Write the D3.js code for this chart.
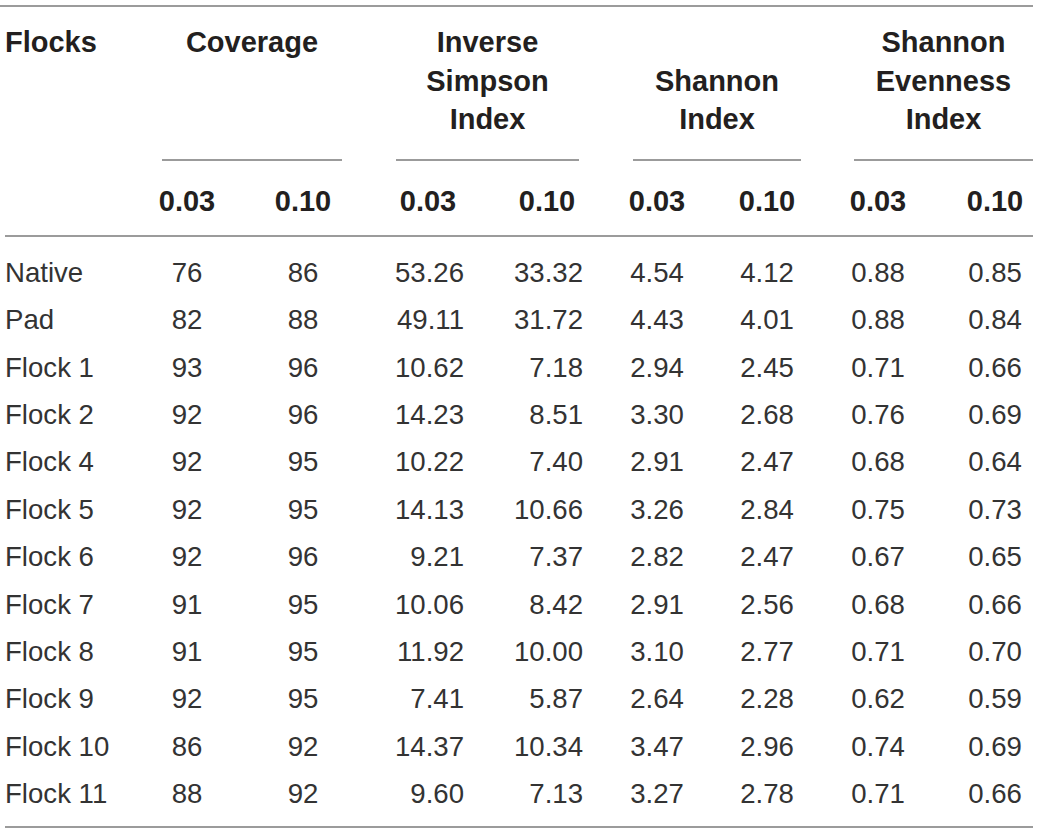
<!DOCTYPE html>
<html lang="en">
<head>
    <meta charset="UTF-8">
    <title>Diversity table</title>
    <script src="https://d3js.org/d3.v7.min.js"></script>
    <style>
        body { margin: 0; background: #fff; }
        text { font-family: "Liberation Sans", Arial, sans-serif; }
    </style>
</head>
<body>
    <svg class="table"></svg>

    <script>
        // data
        const flocks = ['Native', 'Pad', 'Flock 1', 'Flock 2', 'Flock 4', 'Flock 5', 'Flock 6',
                        'Flock 7', 'Flock 8', 'Flock 9', 'Flock 10', 'Flock 11'];
        const coverage03 = ['76', '82', '93', '92', '92', '92', '92', '91', '91', '92', '86', '88'];
        const coverage10 = ['86', '88', '96', '96', '95', '95', '96', '95', '95', '95', '92', '92'];
        const invSimpson03 = ['53.26', '49.11', '10.62', '14.23', '10.22', '14.13', '9.21', '10.06', '11.92', '7.41', '14.37', '9.60'];
        const invSimpson10 = ['33.32', '31.72', '7.18', '8.51', '7.40', '10.66', '7.37', '8.42', '10.00', '5.87', '10.34', '7.13'];
        const shannon03 = ['4.54', '4.43', '2.94', '3.30', '2.91', '3.26', '2.82', '2.91', '3.10', '2.64', '3.47', '3.27'];
        const shannon10 = ['4.12', '4.01', '2.45', '2.68', '2.47', '2.84', '2.47', '2.56', '2.77', '2.28', '2.96', '2.78'];
        const evenness03 = ['0.88', '0.88', '0.71', '0.76', '0.68', '0.75', '0.67', '0.68', '0.71', '0.62', '0.74', '0.71'];
        const evenness10 = ['0.85', '0.84', '0.66', '0.69', '0.64', '0.73', '0.65', '0.66', '0.70', '0.59', '0.69', '0.66'];

        const groupNames = [['Coverage'], ['Inverse', 'Simpson', 'Index'], ['Shannon', 'Index'], ['Shannon', 'Evenness', 'Index']];
        const cutoffs = ['0.03', '0.10'];

        const W = 1039, H = 834;
        const svg = d3.select('.table').attr('width', W).attr('height', H);

        // columns: group spans and per-column anchors
        const groupX = d3.scaleOrdinal().domain(d3.range(4))
            .range([[162, 342], [396, 579], [633, 801], [854, 1033]]);
        const colX = d3.scaleOrdinal().domain(d3.range(8))
            .range([187, 303, 428, 547, 657, 767, 878, 995]);
        // inverse simpson values are right aligned
        const colRight = { 2: 464, 3: 583 };

        // rows
        const y = d3.scalePoint().domain(flocks).range([282, 803]);

        const columns = [coverage03, coverage10, invSimpson03, invSimpson10,
                         shannon03, shannon10, evenness03, evenness10];

        // rules
        const rules = [[0, 1033, 6], [5, 1033, 236], [5, 1033, 827]];
        svg.selectAll('line.rule').data(rules).enter().append('line')
            .attr('class', 'rule')
            .attr('x1', d => d[0]).attr('x2', d => d[1])
            .attr('y1', d => d[2]).attr('y2', d => d[2])
            .attr('stroke', '#7a7a7a').attr('stroke-width', 1.5);

        svg.selectAll('line.group').data(d3.range(4)).enter().append('line')
            .attr('class', 'group')
            .attr('x1', d => groupX(d)[0]).attr('x2', d => groupX(d)[1])
            .attr('y1', 160).attr('y2', 160)
            .attr('stroke', '#7a7a7a').attr('stroke-width', 1.5);

        // header
        svg.append('text').attr('x', 5).attr('y', 52)
            .attr('font-size', 29).attr('font-weight', 'bold').attr('fill', '#231f20')
            .text('Flocks');

        const headerLines = groupNames.map((g, i) => {
            // 3-line header block; two-line names sit on the lower lines
            const start = g.length === 2 ? 1 : 0;
            return g.map((t, j) => ({ t: t, x: (groupX(i)[0] + groupX(i)[1]) / 2, line: start + j }));
        }).flat();

        svg.selectAll('text.group').data(headerLines).enter().append('text')
            .attr('class', 'group')
            .attr('x', d => d.x).attr('y', d => 52 + d.line * 38.5)
            .attr('text-anchor', 'middle')
            .attr('font-size', 29).attr('font-weight', 'bold').attr('fill', '#231f20')
            .text(d => d.t);

        svg.selectAll('text.cut').data(d3.range(8)).enter().append('text')
            .attr('class', 'cut')
            .attr('x', d => colX(d)).attr('y', 211)
            .attr('text-anchor', 'middle')
            .attr('font-size', 29).attr('font-weight', 'bold').attr('fill', '#231f20')
            .text(d => cutoffs[d % 2]);

        // body
        svg.selectAll('text.flock').data(flocks).enter().append('text')
            .attr('class', 'flock')
            .attr('x', 5).attr('y', d => y(d))
            .attr('font-size', 27.6).attr('fill', '#333')
            .text(d => d);

        columns.forEach((col, c) => {
            svg.selectAll('text.c' + c).data(col).enter().append('text')
                .attr('class', 'c' + c)
                .attr('x', colRight[c] !== undefined ? colRight[c] : colX(c))
                .attr('y', (d, i) => y(flocks[i]))
                .attr('text-anchor', colRight[c] !== undefined ? 'end' : 'middle')
                .attr('font-size', 27.6).attr('fill', '#333')
                .text(d => d);
        });
    </script>
</body>
</html>
